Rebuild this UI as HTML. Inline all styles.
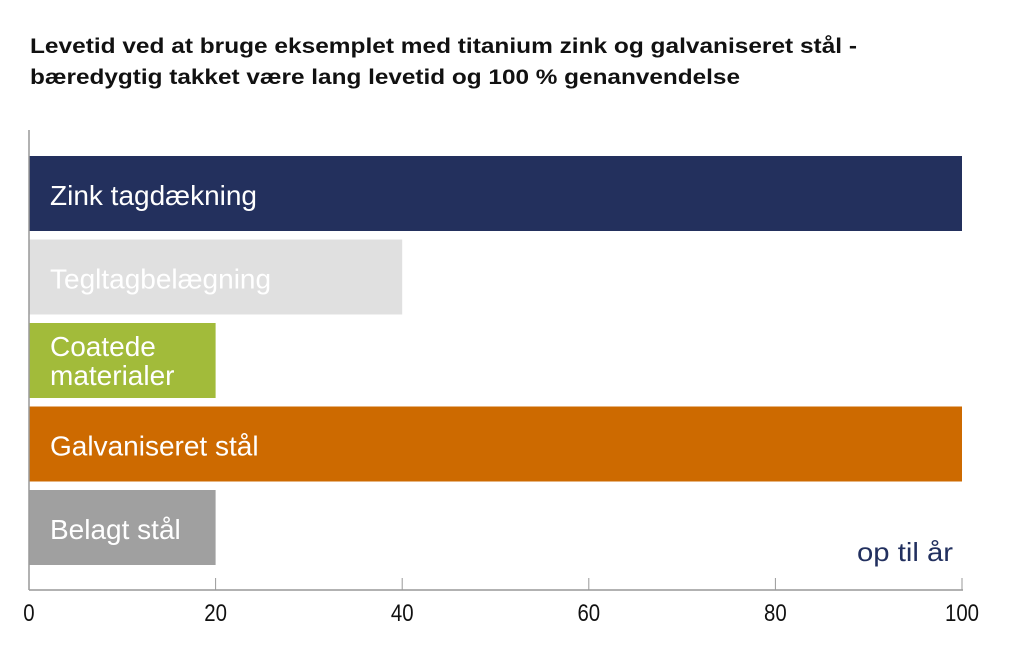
<!DOCTYPE html>
<html><head><meta charset="utf-8"><style>
body{margin:0;background:#fff;width:1022px;height:653px;overflow:hidden}
svg{display:block;font-family:"Liberation Sans",sans-serif}
</style></head><body>
<svg width="1022" height="653">
<text x="30" y="53" font-size="21.5" font-weight="bold" fill="#111" textLength="827" lengthAdjust="spacingAndGlyphs">Levetid ved at bruge eksemplet med titanium zink og galvaniseret stål -</text>
<text x="30" y="84" font-size="21.5" font-weight="bold" fill="#111" textLength="710" lengthAdjust="spacingAndGlyphs">bæredygtig takket være lang levetid og 100 % genanvendelse</text>
<g id="bars"></g>
<g id="axis"></g>
<text x="953" y="561" font-size="26" fill="#22305f" text-anchor="end" textLength="96" lengthAdjust="spacingAndGlyphs">op til år</text>
</svg>
<script>
const categories=["Zink tagdækning","Tegltagbelægning","Coatede materialer","Galvaniseret stål","Belagt stål"];
const values=[100,40,20,100,20];
const tickValues=[0,20,40,60,80,100];
const colors=["#23305d","#e0e0e0","#a2bb3a","#cd6a00","#a0a0a0"];
const ns="http://www.w3.org/2000/svg";
const x0=29,x1=962,axisY=590,top0=156,bandH=83.5,barH=75;
const xs=v=>x0+(x1-x0)*v/100;
const bars=document.getElementById('bars'),axis=document.getElementById('axis');
function mk(tag,attrs,parent){const e=document.createElementNS(ns,tag);for(const k in attrs)e.setAttribute(k,attrs[k]);parent.appendChild(e);return e;}
categories.forEach((c,i)=>{
  const y=top0+i*bandH;
  const r=mk('rect',{x:x0,y:y,width:xs(values[i])-x0,height:barH,fill:colors[i]},bars);
  
  
  const lines=c==="Coatede materialer"?["Coatede","materialer"]:[c];
  lines.forEach((ln,j)=>{
    const t=mk('text',{x:50,y:lines.length>1?y+33+j*29:y+49,'font-size':28,fill:'#fff'},bars);
    t.textContent=ln;
    
    
  });
});
const yl=mk('line',{x1:x0,y1:130,x2:x0,y2:axisY,stroke:'#999','stroke-width':1.5},axis);


const xl=mk('line',{x1:x0,y1:axisY,x2:x1+1,y2:axisY,stroke:'#999','stroke-width':1.5},axis);


tickValues.forEach(v=>{
  const tk=mk('line',{x1:xs(v),y1:axisY-12,x2:xs(v),y2:axisY,stroke:'#999','stroke-width':1},axis);
  
  
  const t=mk('text',{x:xs(v),y:621,'font-size':24,fill:'#111','text-anchor':'middle',transform:`translate(${xs(v)},0) scale(0.85,1) translate(${-xs(v)},0)`},axis);
  t.textContent=v;
  
  
});
</script>
</body></html>
